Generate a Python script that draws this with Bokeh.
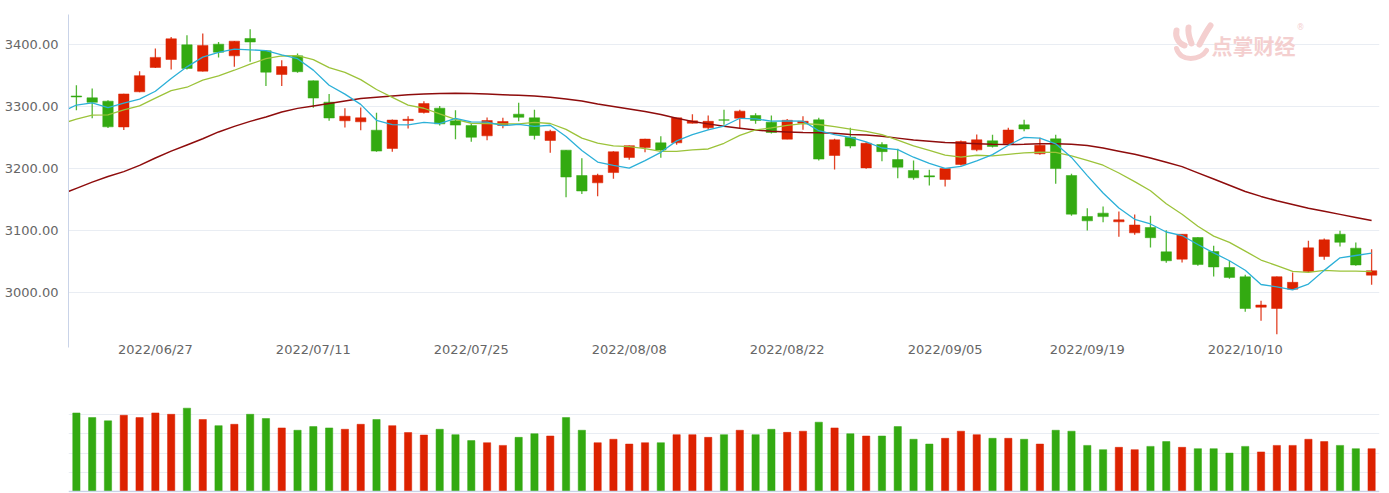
from bokeh.plotting import figure
from bokeh.models import Range1d, FixedTicker, ColumnDataSource, Span
from bokeh.layouts import column
from bokeh.embed import file_html
from bokeh.resources import INLINE
from bokeh.core.properties import value

dates = [
    "2022/06/20", "2022/06/21", "2022/06/22", "2022/06/23", "2022/06/24",
    "2022/06/27", "2022/06/28", "2022/06/29", "2022/06/30", "2022/07/01",
    "2022/07/04", "2022/07/05", "2022/07/06", "2022/07/07", "2022/07/08",
    "2022/07/11", "2022/07/12", "2022/07/13", "2022/07/14", "2022/07/15",
    "2022/07/18", "2022/07/19", "2022/07/20", "2022/07/21", "2022/07/22",
    "2022/07/25", "2022/07/26", "2022/07/27", "2022/07/28", "2022/07/29",
    "2022/08/01", "2022/08/02", "2022/08/03", "2022/08/04", "2022/08/05",
    "2022/08/08", "2022/08/09", "2022/08/10", "2022/08/11", "2022/08/12",
    "2022/08/15", "2022/08/16", "2022/08/17", "2022/08/18", "2022/08/19",
    "2022/08/22", "2022/08/23", "2022/08/24", "2022/08/25", "2022/08/26",
    "2022/08/29", "2022/08/30", "2022/08/31", "2022/09/01", "2022/09/02",
    "2022/09/05", "2022/09/06", "2022/09/07", "2022/09/08", "2022/09/09",
    "2022/09/13", "2022/09/14", "2022/09/15", "2022/09/16", "2022/09/19",
    "2022/09/20", "2022/09/21", "2022/09/22", "2022/09/23", "2022/09/26",
    "2022/09/27", "2022/09/28", "2022/09/29", "2022/09/30", "2022/10/10",
    "2022/10/11", "2022/10/12", "2022/10/13", "2022/10/14", "2022/10/17",
    "2022/10/18", "2022/10/19", "2022/10/20",
]

open_ = [3317.0, 3314.0, 3308.6, 3267.0, 3323.7, 3363.0, 3375.8, 3399.5, 3357.0, 3400.5,
         3381.7, 3409.7, 3390.0, 3351.6, 3381.7, 3341.4, 3307.0, 3277.0, 3275.3, 3261.8,
         3232.3, 3277.5, 3290.3, 3297.3, 3277.0, 3269.4, 3252.7, 3269.4, 3287.6, 3281.7,
         3245.2, 3229.6, 3188.7, 3176.9, 3193.5, 3217.7, 3233.9, 3241.4, 3241.4, 3273.0,
         3265.6, 3278.5, 3281.2, 3285.5, 3274.7, 3247.3, 3273.0, 3278.5, 3221.0, 3250.5,
         3201.0, 3238.7, 3214.5, 3196.8, 3188.2, 3182.3, 3206.5, 3230.1, 3244.6, 3239.8,
         3270.4, 3223.7, 3247.8, 3188.7, 3122.6, 3128.0, 3114.0, 3096.2, 3104.8, 3065.6,
         3053.8, 3088.7, 3066.0, 3040.3, 3025.3, 2976.3, 2974.2, 3005.4, 3033.9, 3058.0,
         3094.0, 3071.5, 3028.0]
high = [3334.4, 3329.0, 3310.0, 3320.5, 3357.0, 3393.5, 3412.0, 3415.0, 3417.7, 3404.0,
        3405.8, 3424.7, 3391.0, 3374.7, 3385.5, 3342.0, 3320.0, 3297.3, 3298.4, 3289.8,
        3279.0, 3284.4, 3308.6, 3301.0, 3294.0, 3272.6, 3282.3, 3281.7, 3306.0, 3294.6,
        3262.4, 3230.0, 3216.7, 3191.4, 3228.0, 3237.0, 3247.8, 3252.2, 3282.0, 3287.6,
        3285.5, 3294.6, 3294.6, 3289.2, 3285.5, 3280.0, 3284.4, 3281.7, 3247.8, 3265.6,
        3242.5, 3242.5, 3231.7, 3212.9, 3197.8, 3200.5, 3245.2, 3254.8, 3254.3, 3265.6,
        3278.5, 3249.5, 3254.3, 3191.4, 3136.0, 3138.7, 3130.6, 3125.8, 3123.7, 3100.5,
        3094.0, 3089.0, 3075.3, 3051.0, 3028.5, 2986.6, 3025.8, 3032.3, 3083.3, 3087.1,
        3099.5, 3080.6, 3069.9]
low = [3294.0, 3281.0, 3265.5, 3262.0, 3323.0, 3362.0, 3359.7, 3359.5, 3356.5, 3379.0,
       3364.0, 3372.0, 3333.0, 3333.0, 3354.5, 3297.8, 3277.0, 3266.0, 3261.8, 3227.0,
       3226.9, 3264.5, 3288.7, 3269.5, 3247.3, 3243.0, 3245.7, 3265.0, 3276.3, 3246.8,
       3225.3, 3153.8, 3159.0, 3155.4, 3183.3, 3214.0, 3226.3, 3217.2, 3238.2, 3272.5,
       3262.4, 3270.4, 3264.0, 3272.0, 3256.5, 3247.0, 3262.4, 3213.0, 3198.4, 3232.8,
       3199.5, 3211.8, 3184.4, 3182.0, 3172.6, 3171.0, 3204.8, 3228.0, 3234.0, 3238.2,
       3260.2, 3222.0, 3175.3, 3124.0, 3100.0, 3113.4, 3090.0, 3093.0, 3072.6, 3048.0,
       3048.4, 3043.0, 3025.8, 3022.0, 2968.8, 2954.3, 2932.8, 3005.0, 3033.5, 3052.7,
       3074.2, 3043.0, 3012.4]
close = [3315.4, 3306.7, 3267.2, 3320.2, 3349.8, 3379.2, 3409.2, 3361.5, 3398.6, 3387.6,
         3405.4, 3404.0, 3355.4, 3364.4, 3356.1, 3313.6, 3281.5, 3284.3, 3281.7, 3228.1,
         3278.1, 3279.4, 3304.7, 3272.0, 3270.0, 3250.4, 3277.4, 3275.8, 3282.6, 3253.2,
         3260.0, 3186.3, 3163.7, 3189.0, 3227.0, 3236.9, 3247.4, 3230.0, 3281.7, 3276.9,
         3276.1, 3277.9, 3292.5, 3277.5, 3258.1, 3277.8, 3276.2, 3215.2, 3246.3, 3236.2,
         3240.7, 3227.2, 3202.1, 3185.0, 3186.5, 3199.9, 3243.5, 3246.3, 3235.6, 3262.1,
         3263.8, 3237.5, 3199.9, 3126.4, 3115.6, 3122.4, 3117.2, 3108.9, 3088.4, 3051.2,
         3093.9, 3045.1, 3041.2, 3024.4, 2974.2, 2979.8, 3025.5, 3016.4, 3072.0, 3084.9,
         3081.0, 3044.4, 3035.1]
volume = [409, 385, 368, 397, 385, 409, 402, 434, 375, 343,
          350, 402, 380, 331, 319, 338, 331, 324, 350, 375,
          343, 307, 294, 324, 296, 265, 254, 240, 282, 301,
          289, 385, 319, 254, 272, 247, 254, 254, 296, 296,
          282, 296, 319, 296, 324, 308, 314, 361, 331, 301,
          289, 289, 338, 272, 247, 277, 314, 296, 277, 277,
          272, 247, 319, 314, 240, 218, 230, 218, 235, 260,
          230, 223, 223, 200, 235, 206, 240, 240, 272, 260,
          240, 223, 223]

# moving averages: first value belongs to the trading day before 2022/06/20
ma5 = [3290.4, 3302.4, 3305.9, 3298.3, 3305.3, 3311.9, 3324.6, 3345.1, 3364.0, 3379.7,
       3387.2, 3392.5, 3391.4, 3390.2, 3383.4, 3377.1, 3358.7, 3334.2, 3320.0, 3303.4,
       3277.8, 3270.7, 3270.3, 3274.4, 3272.5, 3280.8, 3275.3, 3274.9, 3269.1, 3271.2,
       3267.9, 3269.8, 3251.6, 3229.2, 3210.4, 3205.2, 3200.6, 3212.8, 3226.1, 3244.6,
       3254.6, 3262.4, 3268.5, 3281.0, 3280.2, 3276.4, 3276.8, 3276.4, 3261.0, 3254.7,
       3250.3, 3242.9, 3233.1, 3230.5, 3218.2, 3208.3, 3200.1, 3203.4, 3212.2, 3222.4,
       3237.5, 3250.3, 3249.1, 3239.8, 3217.9, 3188.6, 3160.4, 3136.3, 3118.1, 3110.5,
       3097.6, 3091.9, 3077.5, 3064.0, 3051.2, 3035.8, 3012.9, 3009.0, 3004.1, 3013.6,
       3035.7, 3056.0, 3059.7, 3063.5]
ma10 = [3271.8, 3279.7, 3286.2, 3286.5, 3294.6, 3301.1, 3313.5, 3325.5, 3331.1, 3342.5,
        3349.5, 3358.5, 3368.3, 3377.1, 3381.5, 3382.1, 3375.6, 3362.8, 3355.1, 3343.4,
        3327.5, 3314.7, 3302.3, 3297.2, 3288.0, 3279.3, 3273.0, 3272.6, 3271.8, 3271.9,
        3274.4, 3272.6, 3263.2, 3249.1, 3240.8, 3236.5, 3235.2, 3232.2, 3227.6, 3227.5,
        3229.9, 3231.5, 3240.7, 3253.5, 3262.4, 3265.5, 3269.6, 3272.5, 3271.0, 3267.5,
        3263.4, 3259.8, 3254.8, 3245.7, 3236.5, 3229.3, 3221.5, 3218.3, 3221.4, 3220.3,
        3222.9, 3225.2, 3226.2, 3226.0, 3220.2, 3213.1, 3205.3, 3192.7, 3178.9, 3164.2,
        3143.1, 3126.1, 3106.9, 3091.0, 3080.8, 3066.7, 3052.4, 3043.3, 3034.0, 3032.4,
        3035.7, 3034.5, 3034.4, 3033.8]
ma60 = [3158, 3168, 3178, 3187, 3195, 3205, 3217, 3228, 3238, 3248,
        3259, 3268, 3276, 3283, 3291, 3297, 3301, 3305, 3309, 3313,
        3315, 3317, 3319, 3320, 3321, 3321.5, 3321, 3320, 3319, 3318,
        3317, 3315, 3312, 3309, 3304, 3300, 3296, 3292, 3287, 3281,
        3276, 3272, 3268, 3265, 3262, 3260, 3259, 3258, 3257.5, 3257,
        3255, 3254, 3252, 3249, 3246, 3244, 3242, 3241, 3240, 3239,
        3238.7, 3239, 3240, 3240, 3239, 3237, 3233, 3228, 3223, 3217,
        3210, 3203, 3193, 3183, 3173, 3163, 3155, 3148, 3142, 3136,
        3131, 3126, 3121, 3116]

tick_labels = ["2022/06/27", "2022/07/11", "2022/07/25", "2022/08/08",
               "2022/08/22", "2022/09/05", "2022/09/19", "2022/10/10"]
price_ticks = [3000, 3100, 3200, 3300, 3400]
volume_grid = [100, 200, 300, 400, 500]

UP = "#dd2200"
DOWN = "#33aa11"
FONT = "DejaVu Sans"

n = len(dates)
idx = list(range(n))
colors = [UP if c >= o else DOWN for o, c in zip(open_, close)]
src = ColumnDataSource(dict(
    x=idx, open=open_, high=high, low=low, close=close,
    top=[max(o, c) for o, c in zip(open_, close)],
    bottom=[min(o, c) for o, c in zip(open_, close)],
    vol=volume, color=colors, date=dates,
))
ma_x = list(range(-1, n))

xr = Range1d(-0.5, n - 0.5)
p = figure(width=1389, height=370, x_range=xr, y_range=Range1d(2911.3, 3448.4),
           output_backend="svg", toolbar_location=None,
           min_border_left=68, min_border_right=10, min_border_top=14, min_border_bottom=23)
p.outline_line_color = None
p.background_fill_color = "white"
p.xgrid.visible = False
p.ygrid.grid_line_color = "#e9edf3"
p.ygrid.grid_line_width = 1

p.yaxis.ticker = FixedTicker(ticks=price_ticks)
p.yaxis.major_label_overrides = {t: f"{t:.2f}" for t in price_ticks}
p.yaxis.axis_line_color = "#c9d3e8"
p.yaxis.major_tick_line_color = None
p.yaxis.minor_tick_line_color = None
p.yaxis.major_tick_out = 0
p.yaxis.minor_tick_out = 0
p.yaxis.major_label_standoff = 10
p.yaxis.major_label_text_font = FONT
p.yaxis.major_label_text_font_size = "13px"
p.yaxis.major_label_text_color = "#666666"

tick_idx = [dates.index(t) for t in tick_labels]
p.xaxis.ticker = FixedTicker(ticks=tick_idx)
p.xaxis.major_label_overrides = {i: t for i, t in zip(tick_idx, tick_labels)}
p.xaxis.axis_line_color = None
p.xaxis.major_tick_line_color = None
p.xaxis.minor_tick_line_color = None
p.xaxis.major_tick_out = 0
p.xaxis.minor_tick_out = 0
p.xaxis.major_label_standoff = -6
p.xaxis.major_label_text_font = FONT
p.xaxis.major_label_text_font_size = "13px"
p.xaxis.major_label_text_color = "#666666"

p.segment(x0="x", y0="high", x1="x", y1="low", source=src, line_color="color",
          line_width=1.3, line_alpha=0.85)
p.vbar(x="x", width=0.66, top="top", bottom="bottom", source=src,
       fill_color="color", line_color="color", line_alpha=0.5, line_width=1)

p.line(ma_x, ma60, line_color="#8e0c0c", line_width=1.5)
p.line(ma_x, ma10, line_color="#9cc33a", line_width=1.3)
p.line(ma_x, ma5, line_color="#2cb0d8", line_width=1.3)

# watermark (logo) in the top right corner
def X(px):
    return -0.5 + (px - 68) / 15.795

def Y(py):
    return 3448.4 - (py - 14) / 0.62

wm = "#f4cfcf"
p.text(x=[X(1211)], y=[Y(45)], text=["点掌财经"], text_font=value("Noto Sans CJK SC"),
       text_font_size="21px", text_font_style="bold", text_color=wm,
       text_baseline="middle", text_align="left")
p.text(x=[X(1296)], y=[Y(27)], text=["®"], text_font=value(FONT),
       text_font_size="8px", text_color=wm, text_baseline="middle", text_align="left")
p.bezier(x0=[X(1176), X(1188), X(1210)], y0=[Y(30), Y(27), Y(25)],
         x1=[X(1184), X(1191), X(1199)], y1=[Y(45), Y(43), Y(44)],
         cx0=[X(1174), X(1187), X(1205)], cy0=[Y(38), Y(34), Y(32)],
         cx1=[X(1180), X(1190), X(1201)], cy1=[Y(44), Y(40), Y(40)],
         line_color=wm, line_width=6, line_cap="round")
p.bezier(x0=[X(1176)], y0=[Y(48)], x1=[X(1206)], y1=[Y(50)],
         cx0=[X(1180)], cy0=[Y(62)], cx1=[X(1200)], cy1=[Y(60)],
         line_color=wm, line_width=5, line_cap="round")

v = figure(width=1389, height=123, x_range=xr, y_range=Range1d(-5.2, 500),
           output_backend="svg", toolbar_location=None,
           min_border_left=68, min_border_right=10, min_border_top=25, min_border_bottom=1)
v.outline_line_color = None
v.xaxis.visible = False
v.yaxis.visible = False
v.xgrid.visible = False
v.ygrid.ticker = FixedTicker(ticks=volume_grid)
v.ygrid.grid_line_color = "#e9edf3"
v.vbar(x="x", width=0.46, top="vol", bottom=0, source=src,
       fill_color="color", line_color="color", line_alpha=0.5, line_width=1)
v.add_layout(Span(location=0, dimension="width", line_color="#c9d3e8", line_width=1.5))

layout = column(p, v, spacing=0)
open("out.html", "w").write(file_html(layout, INLINE))
